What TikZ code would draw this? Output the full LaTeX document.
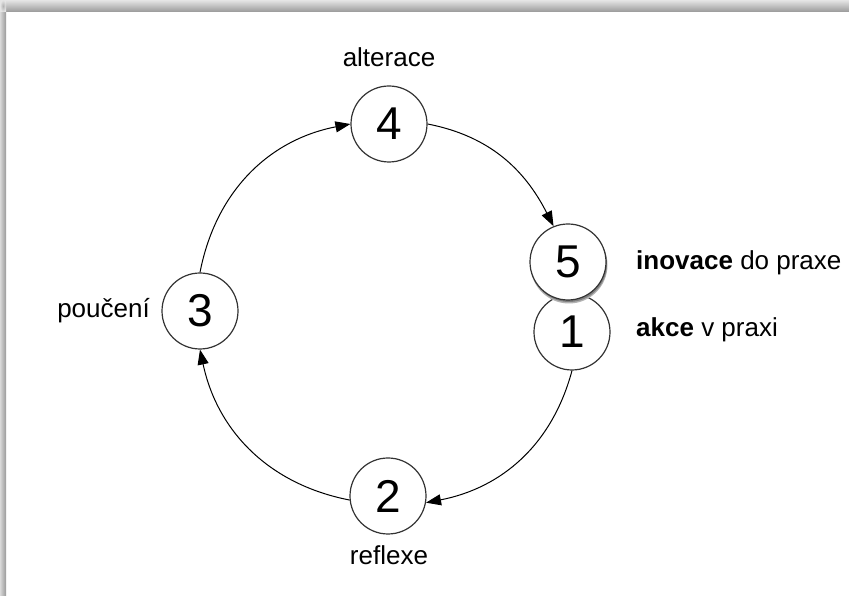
\documentclass[tikz,border=0pt]{standalone}
\usepackage{fontspec}
\setmainfont{Liberation Sans}
\usetikzlibrary{arrows.meta}
\begin{document}
\begin{tikzpicture}[x=1pt,y=1pt,
  stage/.style={circle,draw=black!80,line width=1.2pt,fill=white,minimum size=76pt,inner sep=0pt,font=\fontsize{46}{46}\selectfont},
  lbl/.style={font=\fontsize{26}{26}\selectfont,inner sep=0pt},
  arr/.style={line width=1pt,-{Triangle[length=15pt,width=11pt]}}]
\useasboundingbox (0,0) rectangle (849,596);
% frame shadow
\shade[top color=black!10,bottom color=black!40] (6,584) rectangle (849,596);
\shade[left color=black!15,right color=black!40] (0,0) rectangle (6,584);
\shade[inner color=black!30,outer color=black!10] (0,584) rectangle (6,596);
% nodes
\node[stage] (n4) at (389,472) {4};
\node[stage] (n3) at (200,285) {3};
\node[stage] (n2) at (388,100) {2};
\node[stage] (n1) at (572,264) {1};
\fill[black!30] (569,331) circle (38.5pt);
\fill[black!50] (569,332) circle (38pt);
\node[stage] (n5) at (568,334) {5};
% labels
\node[lbl] (l4) at (389,539) {alterace};
\node[lbl] (l2) at (389,41) {reflexe};
\node[lbl,anchor=east] (l3) at (150,285) {poučení};
\node[lbl,anchor=west] (l5) at (636,333) {\textbf{inovace} do praxe};
\node[lbl,anchor=west] (l1) at (636,266) {\textbf{akce} v praxi};
% arrows
\draw[arr] (n3.north) to[out=79,in=-169] (n4.west);
\draw[arr] (n4.east) to[out=-11,in=117] (n5.112);
\draw[arr] (n1.south) to[out=-105,in=11] (n2.-10);
\draw[arr] (n2.186) to[out=169,in=-78] (n3.south);
\end{tikzpicture}
\end{document}
